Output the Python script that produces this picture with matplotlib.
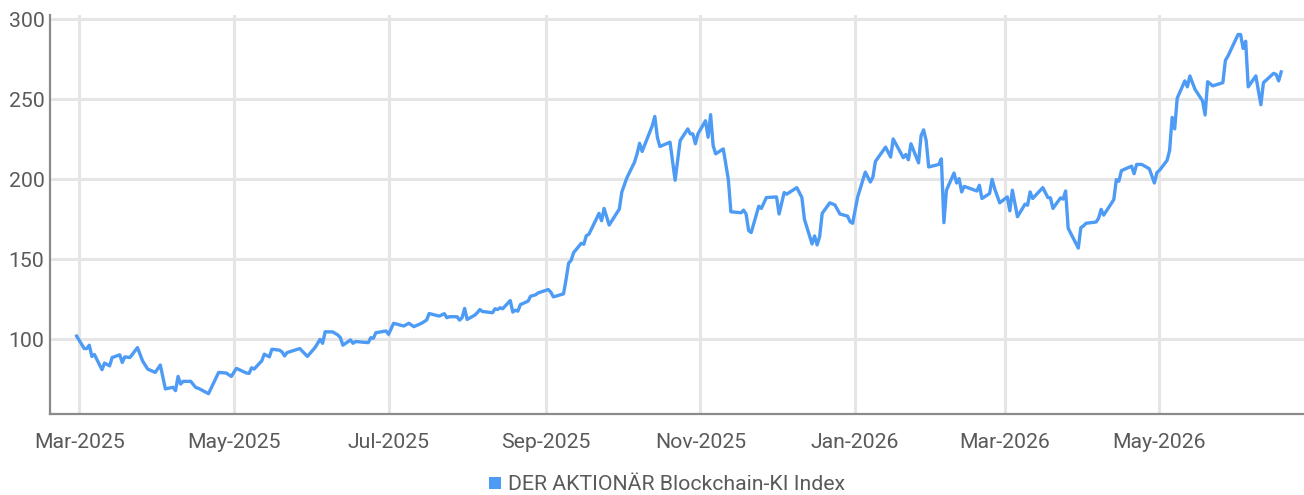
import matplotlib
matplotlib.use("Agg")
import matplotlib.pyplot as plt
import matplotlib.dates as mdates
from matplotlib.patches import Patch
import pandas as pd

plt.rcParams['font.family'] = ['Roboto', 'DejaVu Sans']

series_name = "DER AKTIONÄR Blockchain-KI Index"

dates = [
    "2025-02-28", "2025-03-03", "2025-03-04", "2025-03-05", "2025-03-06", "2025-03-07",
    "2025-03-10", "2025-03-11", "2025-03-13", "2025-03-14", "2025-03-17", "2025-03-18",
    "2025-03-19", "2025-03-21", "2025-03-24", "2025-03-26", "2025-03-28", "2025-03-31",
    "2025-04-02", "2025-04-04", "2025-04-07", "2025-04-08", "2025-04-09", "2025-04-10",
    "2025-04-11", "2025-04-14", "2025-04-16", "2025-04-17", "2025-04-21", "2025-04-25",
    "2025-04-28", "2025-04-30", "2025-05-02", "2025-05-06", "2025-05-07", "2025-05-08",
    "2025-05-09", "2025-05-12", "2025-05-13", "2025-05-15", "2025-05-16", "2025-05-19",
    "2025-05-20", "2025-05-21", "2025-05-22", "2025-05-27", "2025-05-30", "2025-06-02",
    "2025-06-04", "2025-06-05", "2025-06-06", "2025-06-09", "2025-06-11", "2025-06-12",
    "2025-06-13", "2025-06-16", "2025-06-17", "2025-06-18", "2025-06-23", "2025-06-24",
    "2025-06-25", "2025-06-26", "2025-06-30", "2025-07-01", "2025-07-03", "2025-07-07",
    "2025-07-09", "2025-07-11", "2025-07-14", "2025-07-16", "2025-07-17", "2025-07-21",
    "2025-07-23", "2025-07-24", "2025-07-25", "2025-07-28", "2025-07-29", "2025-07-30",
    "2025-07-31", "2025-08-01", "2025-08-04", "2025-08-05", "2025-08-06", "2025-08-07",
    "2025-08-11", "2025-08-12", "2025-08-13", "2025-08-14", "2025-08-15", "2025-08-18",
    "2025-08-19", "2025-08-20", "2025-08-21", "2025-08-22", "2025-08-25", "2025-08-26",
    "2025-08-28", "2025-08-29", "2025-09-02", "2025-09-03", "2025-09-04", "2025-09-08",
    "2025-09-09", "2025-09-10", "2025-09-11", "2025-09-12", "2025-09-15", "2025-09-16",
    "2025-09-17", "2025-09-18", "2025-09-22", "2025-09-23", "2025-09-24", "2025-09-26",
    "2025-09-30", "2025-10-01", "2025-10-03", "2025-10-06", "2025-10-07", "2025-10-08",
    "2025-10-09", "2025-10-13", "2025-10-14", "2025-10-15", "2025-10-16", "2025-10-20",
    "2025-10-22", "2025-10-24", "2025-10-27", "2025-10-28", "2025-10-29", "2025-10-30",
    "2025-10-31", "2025-11-03", "2025-11-04", "2025-11-05", "2025-11-06", "2025-11-07",
    "2025-11-10", "2025-11-12", "2025-11-13", "2025-11-17", "2025-11-18", "2025-11-19",
    "2025-11-20", "2025-11-21", "2025-11-24", "2025-11-25", "2025-11-27", "2025-12-01",
    "2025-12-02", "2025-12-04", "2025-12-05", "2025-12-09", "2025-12-11", "2025-12-12",
    "2025-12-15", "2025-12-16", "2025-12-17", "2025-12-18", "2025-12-19", "2025-12-22",
    "2025-12-24", "2025-12-26", "2025-12-29", "2025-12-30", "2025-12-31", "2026-01-02",
    "2026-01-05", "2026-01-07", "2026-01-08", "2026-01-09", "2026-01-13", "2026-01-15",
    "2026-01-16", "2026-01-20", "2026-01-21", "2026-01-22", "2026-01-23", "2026-01-26",
    "2026-01-27", "2026-01-28", "2026-01-29", "2026-01-30", "2026-02-03", "2026-02-04",
    "2026-02-05", "2026-02-06", "2026-02-09", "2026-02-10", "2026-02-11", "2026-02-12",
    "2026-02-13", "2026-02-18", "2026-02-19", "2026-02-20", "2026-02-23", "2026-02-24",
    "2026-02-25", "2026-02-27", "2026-03-02", "2026-03-03", "2026-03-04", "2026-03-06",
    "2026-03-09", "2026-03-10", "2026-03-11", "2026-03-12", "2026-03-16", "2026-03-18",
    "2026-03-19", "2026-03-20", "2026-03-23", "2026-03-24", "2026-03-25", "2026-03-26",
    "2026-03-30", "2026-03-31", "2026-04-01", "2026-04-02", "2026-04-06", "2026-04-07",
    "2026-04-08", "2026-04-09", "2026-04-13", "2026-04-14", "2026-04-15", "2026-04-16",
    "2026-04-20", "2026-04-21", "2026-04-22", "2026-04-24", "2026-04-27", "2026-04-29",
    "2026-04-30", "2026-05-01", "2026-05-04", "2026-05-05", "2026-05-06", "2026-05-07",
    "2026-05-08", "2026-05-11", "2026-05-12", "2026-05-13", "2026-05-15", "2026-05-18",
    "2026-05-19", "2026-05-20", "2026-05-22", "2026-05-26", "2026-05-27", "2026-05-28",
    "2026-06-01", "2026-06-02", "2026-06-03", "2026-06-04", "2026-06-05", "2026-06-08",
    "2026-06-10", "2026-06-11", "2026-06-15", "2026-06-16", "2026-06-17", "2026-06-18",
]

values = [
    102.0, 94.2, 94.2, 96.3, 89.3, 90.5,
    81.0, 85.1, 83.4, 88.6, 90.3, 85.5,
    89.0, 88.6, 94.8, 86.5, 81.4, 79.3,
    83.9, 69.0, 70.0, 67.9, 76.8, 72.0,
    73.7, 73.7, 69.8, 69.4, 66.0, 79.3,
    78.9, 76.8, 81.8, 78.9, 78.7, 82.2,
    81.4, 86.5, 90.7, 89.0, 93.8, 93.2,
    92.1, 89.6, 91.7, 94.2, 89.3, 94.8,
    100.0, 97.5, 104.7, 104.6, 102.7, 101.0,
    96.3, 99.6, 97.5, 98.6, 97.9, 101.0,
    100.6, 104.1, 105.2, 103.1, 110.0, 108.3,
    110.0, 107.9, 110.0, 112.0, 116.1, 114.5,
    116.0, 113.5, 114.1, 114.1, 112.0, 113.5,
    119.3, 112.4, 115.1, 116.6, 118.6, 117.4,
    116.6, 119.1, 118.6, 119.7, 119.1, 124.2,
    117.0, 118.2, 117.6, 121.7, 123.8, 126.9,
    127.8, 129.0, 131.1, 129.4, 126.5, 128.4,
    137.3, 147.6, 149.3, 154.2, 160.0, 159.4,
    164.8, 165.6, 178.7, 174.1, 181.8, 171.4,
    181.4, 192.1, 201.0, 210.7, 215.9, 222.5,
    217.4, 233.5, 239.3, 226.3, 220.5, 223.2,
    199.4, 224.2, 231.5, 228.4, 228.4, 222.2,
    228.4, 236.6, 226.3, 240.4, 221.1, 215.9,
    219.0, 199.8, 179.7, 179.1, 180.7, 178.3,
    168.0, 166.7, 183.2, 181.8, 188.6, 189.0,
    178.3, 191.7, 190.7, 194.8, 188.6, 175.0,
    159.6, 164.6, 159.0, 164.2, 178.7, 185.3,
    184.0, 178.3, 177.0, 173.5, 172.5, 189.0,
    204.5, 198.3, 201.4, 211.2, 220.1, 213.9,
    225.2, 213.5, 215.5, 212.2, 222.2, 210.3,
    227.3, 230.9, 224.2, 207.7, 209.3, 212.8,
    172.9, 193.2, 203.9, 197.7, 200.4, 192.1,
    195.6, 192.7, 196.3, 188.0, 191.1, 200.0,
    194.2, 185.3, 189.0, 180.3, 193.2, 176.6,
    184.5, 183.8, 192.1, 188.0, 194.8, 188.6,
    188.4, 181.8, 188.4, 187.6, 192.7, 169.4,
    157.0, 169.8, 170.8, 172.5, 173.3, 175.6,
    181.2, 177.6, 187.3, 199.8, 198.8, 205.4,
    208.2, 203.5, 209.3, 209.3, 206.6, 197.7,
    204.2, 205.6, 211.8, 218.0, 238.7, 231.5,
    250.7, 261.5, 257.8, 264.6, 256.3, 249.0,
    240.2, 261.0, 258.4, 260.4, 274.3, 277.0,
    290.5, 290.5, 281.8, 286.3, 257.8, 264.6,
    246.6, 260.4, 266.2, 265.6, 261.5, 267.1,
]

y_ticks = [100, 150, 200, 250, 300]
x_tick_dates = ["2025-03-01", "2025-05-01", "2025-07-01", "2025-09-01",
                "2025-11-01", "2026-01-01", "2026-03-01", "2026-05-01"]

line_color = "#4d9bf5"
grid_color = "#e6e6e6"
text_color = "#5a5a5a"
spine_color = "#8a8a8a"

x = pd.to_datetime(dates)

fig = plt.figure(figsize=(13.04, 4.95), dpi=100)
ax = fig.add_axes([50 / 1304, 1 - 414 / 495, 1 - 50 / 1304, (414 - 15) / 495])

ax.plot(x, values, color=line_color, lw=2.4, solid_joinstyle="round", zorder=3)

ax.set_xlim(pd.Timestamp("2025-02-17 12:00"), pd.Timestamp("2026-06-27"))
ax.set_ylim(53.3, 302.7)

ax.set_yticks(y_ticks)
ax.set_xticks(pd.to_datetime(x_tick_dates))
ax.xaxis.set_major_formatter(mdates.DateFormatter("%b-%Y"))

ax.grid(True, color=grid_color, lw=2.2, zorder=0)
ax.set_axisbelow(True)

for s in ["top", "right"]:
    ax.spines[s].set_visible(False)
for s in ["left", "bottom"]:
    ax.spines[s].set_color(spine_color)
    ax.spines[s].set_linewidth(1.6)

ax.tick_params(axis="both", length=0, labelsize=15.3, labelcolor=text_color)
ax.tick_params(axis="x", pad=14)
ax.tick_params(axis="y", pad=4)

handle = Patch(facecolor=line_color, edgecolor="none")
fig.legend([handle], [series_name], loc="center",
           bbox_to_anchor=(667 / 1304, 1 - 485 / 495), frameon=False,
           fontsize=15.3, labelcolor=text_color, handlelength=0.55,
           handleheight=0.55, handletextpad=0.3)

fig.savefig("out.png", dpi=100)
